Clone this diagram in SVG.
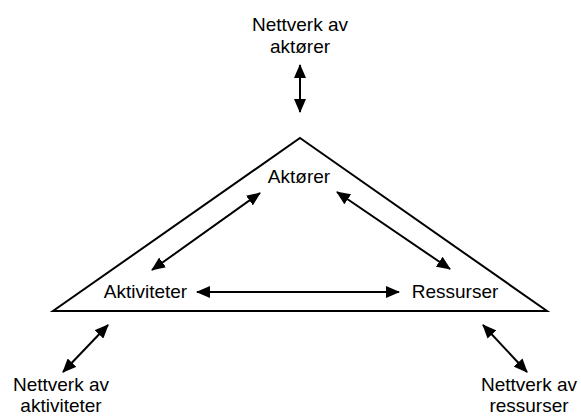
<svg xmlns="http://www.w3.org/2000/svg" width="581" height="416" viewBox="0 0 581 416">
<style>
text{font-family:"Liberation Sans",Arial,sans-serif;font-size:19px;fill:#000;text-anchor:middle}
.edge{stroke:#000;stroke-width:2;fill:none;marker-start:url(#a);marker-end:url(#a)}
</style>
<defs>
<marker id="a" viewBox="0 0 14 12" refX="13" refY="6" markerWidth="14" markerHeight="12" markerUnits="userSpaceOnUse" orient="auto-start-reverse">
<path d="M0,0 L14,6 L0,12 z" fill="#000"/>
</marker>
</defs>
<rect width="581" height="416" fill="#fff"/>
<g id="triangle">
<path d="M300,138 L547,311 L53,311 Z" fill="#fff" stroke="#000" stroke-width="2" stroke-linejoin="miter"/>
</g>
<g id="node-aktorer"><text x="299" y="183">Aktører</text></g>
<g id="node-aktiviteter"><text x="145.5" y="298">Aktiviteter</text></g>
<g id="node-ressurser"><text x="455" y="298">Ressurser</text></g>
<g id="node-nettverk-aktorer"><text x="300" y="31">Nettverk av</text><text x="300" y="53">aktører</text></g>
<g id="node-nettverk-aktiviteter"><text x="61" y="391">Nettverk av</text><text x="61" y="412">aktiviteter</text></g>
<g id="node-nettverk-ressurser"><text x="529" y="391">Nettverk av</text><text x="529" y="412">ressurser</text></g>
<g id="connectors">
<line class="edge" x1="300" y1="65" x2="300" y2="112"/>
<line class="edge" x1="197" y1="292" x2="399" y2="292"/>
<line class="edge" x1="152" y1="270" x2="260" y2="193"/>
<line class="edge" x1="337" y1="192" x2="450" y2="269"/>
<line class="edge" x1="63" y1="372" x2="108" y2="325"/>
<line class="edge" x1="483" y1="325" x2="527" y2="372"/>
</g>
</svg>
